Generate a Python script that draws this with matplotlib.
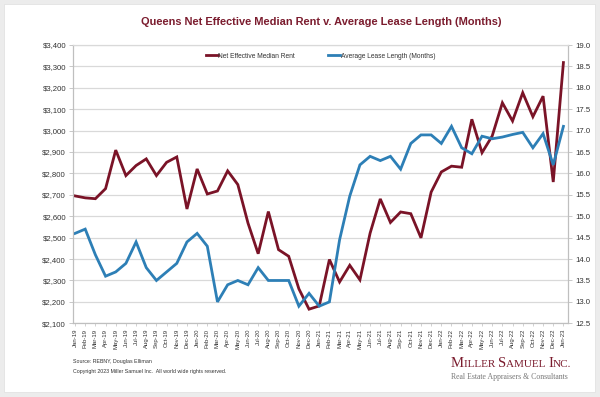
import numpy as np
import matplotlib
matplotlib.use("Agg")
import matplotlib.pyplot as plt
from matplotlib.patches import Rectangle
from matplotlib.lines import Line2D

plt.rcParams['font.family'] = ['Liberation Sans', 'DejaVu Sans']

# Datos
meses = ["Jan-19", "Feb-19", "Mar-19", "Apr-19", "May-19", "Jun-19", "Jul-19", "Aug-19",
         "Sep-19", "Oct-19", "Nov-19", "Dec-19", "Jan-20", "Feb-20", "Mar-20", "Apr-20",
         "May-20", "Jun-20", "Jul-20", "Aug-20", "Sep-20", "Oct-20", "Nov-20", "Dec-20",
         "Jan-21", "Feb-21", "Mar-21", "Apr-21", "May-21", "Jun-21", "Jul-21", "Aug-21",
         "Sep-21", "Oct-21", "Nov-21", "Dec-21", "Jan-22", "Feb-22", "Mar-22", "Apr-22",
         "May-22", "Jun-22", "Jul-22", "Aug-22", "Sep-22", "Oct-22", "Nov-22", "Dec-22",
         "Jan-23"]

renta = [2695, 2686, 2682, 2729, 2909, 2790, 2837, 2868, 2790, 2852, 2877, 2634,
         2821, 2704, 2718, 2812, 2748, 2568, 2425, 2622, 2444, 2413, 2261, 2166,
         2181, 2398, 2293, 2371, 2303, 2521, 2681, 2571, 2620, 2612, 2499, 2713,
         2807, 2834, 2829, 3053, 2897, 2975, 3130, 3045, 3177, 3065, 3161, 2760,
         3318]

plazo = [14.6, 14.7, 14.1, 13.6, 13.7, 13.9, 14.4, 13.8, 13.5, 13.7, 13.9, 14.4,
         14.6, 14.3, 13.0, 13.4, 13.5, 13.4, 13.8, 13.5, 13.5, 13.5, 12.9, 13.2,
         12.9, 13.0, 14.45, 15.47, 16.2, 16.4, 16.3, 16.4, 16.1, 16.7, 16.9, 16.9,
         16.7, 17.1, 16.6, 16.46, 16.87, 16.81, 16.85, 16.91, 16.96, 16.6, 16.93, 16.2,
         17.1]

rent_ticks = np.arange(2100, 3401, 100)
lease_ticks = np.arange(12.5, 19.01, 0.5)

rojo = '#7a1327'
azul = '#2d7fb6'
gris = '#bfbfbf'

fig = plt.figure(figsize=(6.0, 3.97), dpi=100)
fig.patch.set_facecolor('#ececec')
W, H = 600, 397
fig.patches.append(Rectangle((4 / W, 1 - 392 / H), 591 / W, 388 / H,
                             transform=fig.transFigure, facecolor='white',
                             edgecolor='#e2e2e2', lw=0.6, zorder=-5))

ax1 = fig.add_axes([73 / W, 1 - 323.3 / H, 495 / W, 278.3 / H])
ax2 = ax1.twinx()

x = np.arange(len(meses))
ax1.plot(x, renta, color=rojo, lw=2.0, solid_joinstyle='miter')
ax2.plot(x, plazo, color=azul, lw=2.0, solid_joinstyle='miter')

ax1.set_xlim(-0.2, 48.45)
ax1.set_ylim(2100, 3400)
ax2.set_ylim(12.5, 19.0)

ax1.set_yticks(rent_ticks)
ax1.set_yticklabels([f"${v:,.0f}" for v in rent_ticks], fontsize=5.6, color='#333333')
ax2.set_yticks(lease_ticks)
ax2.set_yticklabels([f"{v:.1f}" for v in lease_ticks], fontsize=5.6, color='#333333')
ax1.set_xticks(x)
ax1.set_xticklabels(meses, rotation=90, fontsize=4.3, color='#333333')

ax1.grid(axis='y', color='#d9d9d9', lw=0.9)
ax1.set_axisbelow(True)
for a in (ax1, ax2):
    for s in a.spines.values():
        s.set_color(gris)
        s.set_linewidth(0.8)
    a.spines['top'].set_color('#d9d9d9')
ax1.tick_params(axis='y', length=3, width=0.6, color=gris, pad=2)
ax2.tick_params(axis='y', length=3, width=0.6, color=gris, pad=2)
ax1.tick_params(axis='x', length=2.5, width=0.5, color=gris, pad=1.5)

handles = [Line2D([], [], color=rojo, lw=2.0), Line2D([], [], color=azul, lw=2.0)]
ax2.legend(handles, ["Net Effective Median Rent", "Average Lease Length (Months)"],
           loc='center', bbox_to_anchor=(0.5, 0.96), ncol=2, frameon=False,
           fontsize=4.8, handlelength=1.8, handletextpad=0.05, columnspacing=5.0,
           labelcolor='#333333')

fig.text(321 / W, 1 - 22 / H, "Queens Net Effective Median Rent v. Average Lease Length (Months)",
         ha='center', va='center', fontsize=7.9, fontweight='bold', color='#7b1c2e')

fig.text(73 / W, 1 - 362 / H, "Source: REBNY, Douglas Elliman",
         fontsize=3.8, color='#333333', va='center')
fig.text(73 / W, 1 - 371 / H, "Copyright 2023 Miller Samuel Inc.  All world wide rights reserved.",
         fontsize=3.8, color='#333333', va='center')

# Logo en versalitas
fig.canvas.draw()
renderer = fig.canvas.get_renderer()
partes = [("M", 10.5), ("ILLER ", 8.0), ("S", 10.5), ("AMUEL ", 8.0), ("I", 10.5), ("NC.", 8.0)]
xpix = 451
for txt, fs in partes:
    t = fig.text(xpix / W, 1 - 367 / H, txt, fontsize=fs, color='#7b1c2e',
                 family='Liberation Serif', va='baseline', ha='left')
    xpix = t.get_window_extent(renderer).x1
fig.text(568 / W, 1 - 377 / H, "Real Estate Appraisers & Consultants", fontsize=5.6,
         color='#777777', family='Liberation Serif', va='center', ha='right')

fig.savefig("out.png", dpi=100, facecolor=fig.get_facecolor())
